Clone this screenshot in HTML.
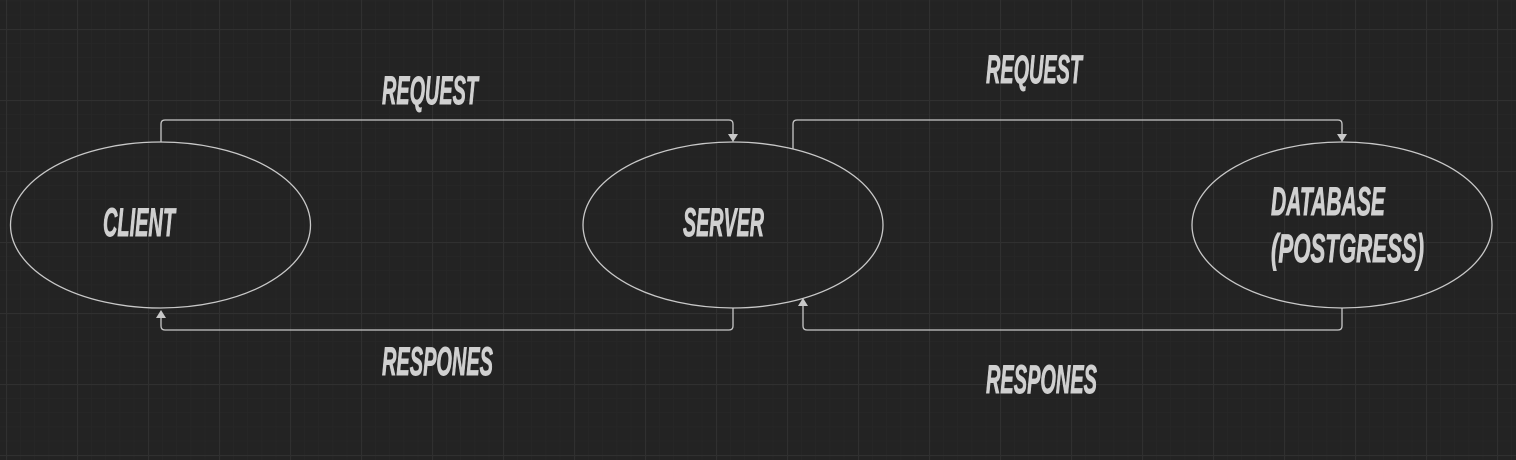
<!DOCTYPE html>
<html><head><style>
html,body{margin:0;padding:0;background:#232323;width:1516px;height:460px;overflow:hidden}
</style></head><body>
<svg width="1516" height="460" xmlns="http://www.w3.org/2000/svg">
<defs>
<pattern id="minor" x="6" y="29" width="14.2" height="14.2" patternUnits="userSpaceOnUse">
<path d="M0 0H14.2M0 0V14.2" stroke="#282828" stroke-width="1" fill="none"/>
</pattern>
<pattern id="major" x="6" y="29" width="71" height="71" patternUnits="userSpaceOnUse">
<path d="M0.5 0V71M0 0.5H71" stroke="#303030" stroke-width="1.2" fill="none"/>
</pattern>
</defs>
<rect width="1516" height="460" fill="#232323"/>
<rect width="1516" height="460" fill="url(#minor)"/>
<rect width="1516" height="460" fill="url(#major)"/>
<g fill="none" stroke="#c8c8c8" stroke-width="1.3">
<ellipse cx="160.5" cy="225" rx="150" ry="83"/>
<ellipse cx="733" cy="225" rx="150" ry="83"/>
<ellipse cx="1342" cy="225" rx="150" ry="83"/>
<path d="M161 142V124Q161 120 165 120H729Q733 120 733 124V136"/>
<path d="M733 308V326Q733 330 729 330H165Q161 330 161 326V316"/>
<path d="M793 149V124Q793 120 797 120H1338Q1342 120 1342 124V136"/>
<path d="M1342 308V326Q1342 330 1338 330H807Q803 330 803 326V306"/>
</g>
<g fill="#c8c8c8">
<path d="M728 134L738 134L733 142Z"/>
<path d="M156 318L166 318L161 310Z"/>
<path d="M1337 134L1347 134L1342 142Z"/>
<path d="M798 306L808 306L803 298Z"/>
</g>
<g fill="#d0d0d0" stroke="#d0d0d0" stroke-width="0.9" font-family="Liberation Sans, sans-serif" font-weight="bold" font-style="italic" font-size="40">
<text x="382" y="104" textLength="96" lengthAdjust="spacingAndGlyphs">REQUEST</text>
<text x="986" y="83" textLength="96" lengthAdjust="spacingAndGlyphs">REQUEST</text>
<text x="382" y="375" textLength="111" lengthAdjust="spacingAndGlyphs">RESPONES</text>
<text x="986" y="393" textLength="111" lengthAdjust="spacingAndGlyphs">RESPONES</text>
<text x="103" y="236" textLength="72" lengthAdjust="spacingAndGlyphs">CLIENT</text>
<text x="683" y="236" textLength="81" lengthAdjust="spacingAndGlyphs">SERVER</text>
<text x="1271" y="215" textLength="114" lengthAdjust="spacingAndGlyphs">DATABASE</text>
<text x="1271" y="262" textLength="153" lengthAdjust="spacingAndGlyphs">(POSTGRESS)</text>
</g>
</svg>
</body></html>
